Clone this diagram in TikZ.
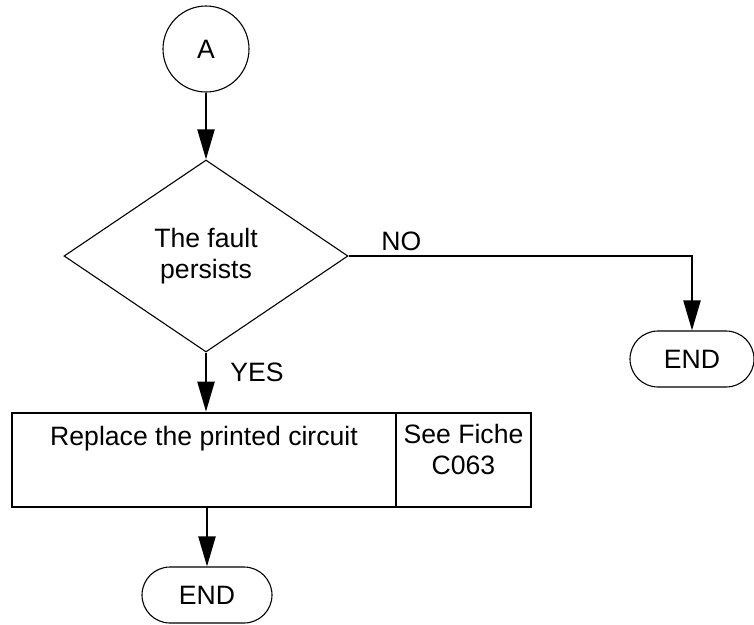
\documentclass[tikz,border=0pt]{standalone}
\usepackage{fontspec}
\setmainfont{Liberation Sans}
\usepackage{tikz}
\usetikzlibrary{shapes.geometric,shapes.misc,arrows.meta}

\begin{document}
\begin{tikzpicture}[x=1pt, y=-1pt,
    every node/.style={font=\fontsize{26.6}{31}\selectfont},
    thinshape/.style={draw=black, line width=1.1pt, inner sep=0pt},
    endpill/.style={thinshape, rounded rectangle, minimum width=124pt, minimum height=56pt},
    cellbox/.style={draw=black, line width=2.6pt, minimum height=94pt, inner sep=0pt},
    flow/.style={line width=2.2pt, -{Triangle[length=30pt, width=17pt]}}]
  \useasboundingbox (0,0) rectangle (754,624);
  \node[thinshape, circle, minimum size=86pt] (circA) at (206,49) {A};
  \node[thinshape, diamond, minimum width=284pt, minimum height=192pt, align=center] (fault) at (206,256) {The fault\\persists};
  \node[endpill] (endNo) at (692,359) {END};
  \node[cellbox, minimum width=384pt, label={[anchor=north, yshift=-11pt]north:Replace the printed circuit}] (replace) at (204,460) {};
  \node[cellbox, minimum width=135pt, label={[anchor=north, align=center, yshift=-9pt]north:See Fiche\\C063}] (fiche) at (463.5,460) {};
  \node[endpill, minimum width=130pt] (endYes) at (207,595) {END};
  \draw[flow] (circA) -- (fault);
  \draw[flow] (fault.east) -| node[pos=0.077, above, yshift=1pt] {NO} (endNo.north);
  \draw[flow] (fault.south) -- node[pos=0.33, right, xshift=20pt] {YES} (fault.south |- replace.north);
  \draw[flow] (replace.south -| endYes.north) -- (endYes.north);
\end{tikzpicture}
\end{document}
